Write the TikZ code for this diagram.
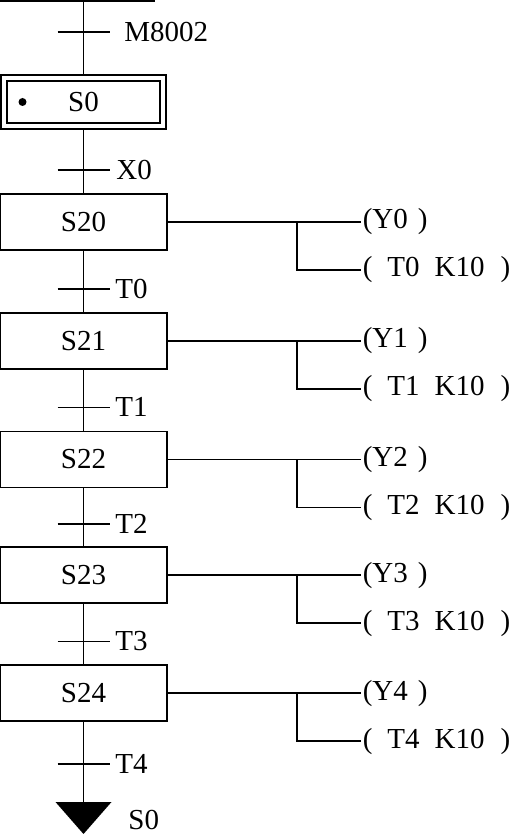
\documentclass[tikz,border=0pt]{standalone}
\usepackage{fontspec}
\setmainfont{Liberation Serif}
\usetikzlibrary{positioning}

\begin{document}
\begin{tikzpicture}[
  x=1pt, y=-1pt, line width=1.8pt,
  every node/.style={font=\fontsize{29}{34}\selectfont},
  stepbox/.style={rectangle, draw, minimum width=167pt, minimum height=56pt, inner sep=0pt},
  initbox/.style={rectangle, draw, double, double distance=4.5pt, minimum width=159pt, minimum height=48pt, inner sep=0pt, outer sep=4pt},
  act/.style={inner sep=1pt, anchor=west},
  lbl/.style={inner sep=0pt, anchor=west}
]
\useasboundingbox (0,0) rectangle (510,834);

% steps
\node[initbox] (s0) at (83.5,102) {S0};
\node[circle, fill, inner sep=0pt, minimum size=8pt] (dot) at ([xshift=-61pt]s0.center) {};
\node[stepbox, below=63pt of s0] (s20) {S20};
\node[stepbox, below=61pt of s20] (s21) {S21};
\node[stepbox, below=61pt of s21] (s22) {S22};
\node[stepbox, below=58pt of s22] (s23) {S23};
\node[stepbox, below=60pt of s23] (s24) {S24};
\coordinate (top) at (83.5,1);
\coordinate[below=80pt of s24] (jump);

% links and transitions
\draw (0,1) -- (155,1);
\draw (top) -- (s0) coordinate[pos=0.43] (tm);
\draw (s0) -- (s20) coordinate[pos=0.64] (tx0);
\draw (s20) -- (s21) coordinate[pos=0.62] (tt0);
\draw (s21) -- (s22) coordinate[pos=0.62] (tt1);
\draw (s22) -- (s23) coordinate[pos=0.62] (tt2);
\draw (s23) -- (s24) coordinate[pos=0.62] (tt3);
\draw (s24) -- (jump) coordinate[pos=0.52] (tt4);

\draw ([xshift=-26pt]tm) -- ([xshift=26pt]tm) node[lbl, xshift=14pt] {M8002};
\draw ([xshift=-26pt]tx0) -- ([xshift=26pt]tx0) node[lbl, xshift=6pt] {X0};
\draw ([xshift=-26pt]tt0) -- ([xshift=26pt]tt0) node[lbl, xshift=5pt] {T0};
\draw ([xshift=-26pt]tt1) -- ([xshift=26pt]tt1) node[lbl, xshift=5pt] {T1};
\draw ([xshift=-26pt]tt2) -- ([xshift=26pt]tt2) node[lbl, xshift=5pt] {T2};
\draw ([xshift=-26pt]tt3) -- ([xshift=26pt]tt3) node[lbl, xshift=5pt] {T3};
\draw ([xshift=-26pt]tt4) -- ([xshift=26pt]tt4) node[lbl, xshift=5pt] {T4};

\fill (jump) ++(-28,0) -- ++(56,0) -- ++(-28,32) -- cycle;
\node[lbl] (back) at ([xshift=44pt, yshift=-18pt]jump) {S0};

% actions
\node[act, right=193pt of s20] (y0) {(Y0\hspace{10pt})};
\node[act] (k0) at ([yshift=-48pt]y0.west) {(\hspace{15pt}T0\hspace{15pt}K10\hspace{16pt})};
\node[act, right=193pt of s21] (y1) {(Y1\hspace{10pt})};
\node[act] (k1) at ([yshift=-48pt]y1.west) {(\hspace{15pt}T1\hspace{15pt}K10\hspace{16pt})};
\node[act, right=193pt of s22] (y2) {(Y2\hspace{10pt})};
\node[act] (k2) at ([yshift=-48pt]y2.west) {(\hspace{15pt}T2\hspace{15pt}K10\hspace{16pt})};
\node[act, right=193pt of s23] (y3) {(Y3\hspace{10pt})};
\node[act] (k3) at ([yshift=-48pt]y3.west) {(\hspace{15pt}T3\hspace{15pt}K10\hspace{16pt})};
\node[act, right=193pt of s24] (y4) {(Y4\hspace{10pt})};
\node[act] (k4) at ([yshift=-48pt]y4.west) {(\hspace{15pt}T4\hspace{15pt}K10\hspace{16pt})};

\draw (s20.east) -- (y0.west);
\draw ([xshift=-64pt]y0.west) |- (k0.west);
\draw (s21.east) -- (y1.west);
\draw ([xshift=-64pt]y1.west) |- (k1.west);
\draw (s22.east) -- (y2.west);
\draw ([xshift=-64pt]y2.west) |- (k2.west);
\draw (s23.east) -- (y3.west);
\draw ([xshift=-64pt]y3.west) |- (k3.west);
\draw (s24.east) -- (y4.west);
\draw ([xshift=-64pt]y4.west) |- (k4.west);
\end{tikzpicture}
\end{document}
